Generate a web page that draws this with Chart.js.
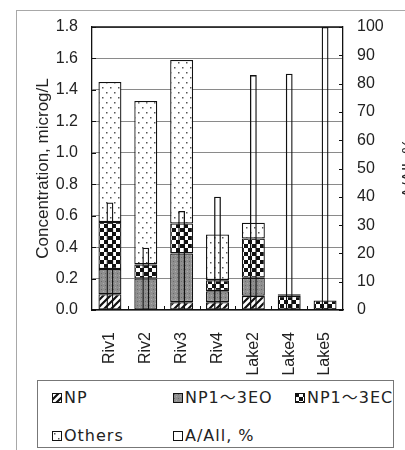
<!DOCTYPE html>
<html>
<head>
<meta charset="utf-8">
<script src="https://cdn.jsdelivr.net/npm/chart.js@4.4.1/dist/chart.umd.min.js"></script>
<style>
  html, body { margin: 0; padding: 0; background: #fff; overflow: hidden; width: 405px; height: 450px; }
  #frame { position: absolute; left: 16px; top: 10px; width: 480px; height: 480px;
           border-top: 1px solid #a8a8a8; border-left: 1px solid #a8a8a8; }
  #chart { position: absolute; left: 0; top: 0; }
  #legend { position: absolute; left: 37px; top: 380px; width: 355px; height: 66px;
            border: 1px solid #777; color: #222; background: #fff;
            font-family: "DejaVu Sans", "Noto Sans CJK JP", sans-serif; font-size: 16px; letter-spacing: 1px; }
  .item { position: absolute; display: flex; align-items: center; white-space: nowrap; height: 20px; line-height: 20px; }
  .item canvas { margin-right: 2px; }
</style>
</head>
<body>
<div id="frame"></div>
<canvas id="chart" width="420" height="378"></canvas>
<div id="legend"></div>
<script>
// Sampling sites
const categories = ['Riv1', 'Riv2', 'Riv3', 'Riv4', 'Lake2', 'Lake4', 'Lake5'];

// Concentrations by compound group, microg/L (stacked)
const npConc     = [0.10, 0.00, 0.05, 0.05, 0.09, 0.00, 0.00];
const eo13Conc   = [0.16, 0.20, 0.31, 0.07, 0.115, 0.00, 0.00];
const ec13Conc   = [0.30, 0.09, 0.19, 0.07, 0.25, 0.09, 0.06];
const othersConc = [0.89, 1.04, 1.04, 0.29, 0.10, 0.01, 0.00];

// Share of A in all, percent (right axis)
const aAllPercent = [38, 22, 35, 40, 83, 83.5, 100];

const seriesLabels = ['NP', 'NP1\uFF5E3EO', 'NP1\uFF5E3EC', 'Others', 'A/All, %'];
const leftTitle = 'Concentration, microg/L';
const rightTitle = 'A/All, %';
const concRange = { min: 0, max: 1.8, step: 0.2 };
const pctRange = { min: 0, max: 100, step: 10 };

// Monochrome fill patterns
function tile(w, h, paint) {
  const c = document.createElement('canvas');
  c.width = w; c.height = h;
  const g = c.getContext('2d');
  g.fillStyle = '#fff';
  g.fillRect(0, 0, w, h);
  paint(g, w, h);
  return g.createPattern(c, 'repeat');
}
const npFill = tile(7, 7, (g, w, h) => {
  g.strokeStyle = '#111'; g.lineWidth = 2.2;
  g.beginPath();
  for (const o of [-w, 0, w]) { g.moveTo(o - 1, h + 1); g.lineTo(o + w + 1, -1); }
  g.stroke();
});
const eoFill = tile(4, 4, (g) => {
  g.fillStyle = '#8f8f8f'; g.fillRect(0, 0, 4, 4);
  g.fillStyle = '#6a6a6a'; g.fillRect(1, 1, 1, 1);
  g.fillStyle = '#adadad'; g.fillRect(3, 3, 1, 1);
});
const ecFill = tile(8, 8, (g) => {
  g.fillStyle = '#111';
  g.fillRect(0, 0, 4, 4);
  g.fillRect(4, 4, 4, 4);
});
const othersFill = tile(8, 10, (g) => {
  g.fillStyle = '#555';
  g.fillRect(2, 2, 1.5, 1.5);
  g.fillRect(6, 7, 1.5, 1.5);
});
const seriesFills = [npFill, eoFill, ecFill, othersFill, '#fff'];

function stackSet(label, data, fill) {
  return {
    label, data, yAxisID: 'y',
    backgroundColor: fill, borderColor: '#111', borderWidth: 1.3, borderSkipped: false,
    barPercentage: 0.64, categoryPercentage: 1, order: 1
  };
}

const tickFont = { family: '"Liberation Sans", Arial, sans-serif', size: 16 };

// Frame top edge, inward tick marks and right-hand axis title
const framePlugin = {
  id: 'frame',
  afterDraw(chart) {
    const { ctx, chartArea: a, scales } = chart;
    ctx.save();
    ctx.strokeStyle = '#111';
    ctx.lineWidth = 1.3;
    ctx.beginPath();
    ctx.moveTo(a.left, a.top); ctx.lineTo(a.right, a.top);
    ctx.stroke();
    ctx.lineWidth = 1;
    ctx.beginPath();
    scales.y.ticks.forEach(t => {
      const py = Math.round(scales.y.getPixelForValue(t.value)) + 0.5;
      ctx.moveTo(a.left, py); ctx.lineTo(a.left + 4, py);
    });
    scales.y1.ticks.forEach(t => {
      const py = Math.round(scales.y1.getPixelForValue(t.value)) + 0.5;
      ctx.moveTo(a.right - 4, py); ctx.lineTo(a.right, py);
    });
    for (let i = 0; i < categories.length - 1; i++) {
      const px = Math.round((scales.x.getPixelForValue(i) + scales.x.getPixelForValue(i + 1)) / 2) + 0.5;
      ctx.moveTo(px, a.bottom); ctx.lineTo(px, a.bottom - 4);
    }
    ctx.stroke();
    ctx.fillStyle = '#222';
    ctx.font = '17px "Liberation Sans", Arial, sans-serif';
    ctx.textAlign = 'center';
    ctx.textBaseline = 'middle';
    ctx.translate(scales.y1.right - 11, (a.top + a.bottom) / 2);
    ctx.rotate(-Math.PI / 2);
    ctx.fillText(rightTitle, 0, 0);
    ctx.restore();
  }
};

const chart = new Chart(document.getElementById('chart'), {
  type: 'bar',
  data: {
    labels: categories,
    datasets: [
      stackSet(seriesLabels[0], npConc, npFill),
      stackSet(seriesLabels[1], eo13Conc, eoFill),
      stackSet(seriesLabels[2], ec13Conc, ecFill),
      stackSet(seriesLabels[3], othersConc, othersFill),
      {
        label: seriesLabels[4], data: aAllPercent, yAxisID: 'y1',
        backgroundColor: 'rgba(255,255,255,0)', borderColor: '#111', borderWidth: 1.3, borderSkipped: false,
        barPercentage: 0.19, categoryPercentage: 1, order: 0
      }
    ]
  },
  options: {
    responsive: false,
    animation: false,
    devicePixelRatio: 1,
    layout: { padding: { top: 27, left: 0, right: 0, bottom: 0 } },
    plugins: { legend: { display: false }, tooltip: { enabled: false } },
    scales: {
      x: {
        stacked: true,
        grid: { display: false },
        border: { display: true, color: '#111', width: 1.3 },
        ticks: { minRotation: 90, maxRotation: 90, padding: 14, color: '#222', font: tickFont },
        afterFit(s) { s.height = 68; }
      },
      y: {
        stacked: true,
        min: concRange.min, max: concRange.max,
        ticks: { stepSize: concRange.step, padding: 14, color: '#222', font: tickFont,
                 callback: v => Number(v).toFixed(1) },
        grid: { color: '#8a8a8a', lineWidth: 1, drawTicks: false },
        border: { display: true, color: '#111', width: 1.3 },
        title: { display: true, text: leftTitle, color: '#222',
                 font: { family: '"Liberation Sans", Arial, sans-serif', size: 17 }, padding: { top: 33, bottom: 0 } },
        afterFit(s) { s.width = 92; }
      },
      y1: {
        position: 'right',
        min: pctRange.min, max: pctRange.max,
        ticks: { stepSize: pctRange.step, padding: 14, color: '#222', font: tickFont },
        grid: { display: false, drawTicks: false },
        border: { display: true, color: '#111', width: 1.3 },
        afterFit(s) { s.width = 77; }
      }
    }
  },
  plugins: [framePlugin]
});

// Legend box built from the dataset labels and fills
const legendSlots = [[14, 7], [135, 7], [257, 7], [14, 45], [135, 45]];
const legendEl = document.getElementById('legend');
chart.data.datasets.forEach((ds, i) => {
  const item = document.createElement('div');
  item.className = 'item';
  item.style.left = legendSlots[i][0] + 'px';
  item.style.top = legendSlots[i][1] + 'px';
  const sw = document.createElement('canvas');
  sw.width = 10; sw.height = 10;
  const g = sw.getContext('2d');
  g.fillStyle = seriesFills[i];
  g.fillRect(0, 0, 10, 10);
  g.strokeStyle = '#111'; g.lineWidth = 1;
  g.strokeRect(0.5, 0.5, 9, 9);
  const tx = document.createElement('span');
  tx.textContent = ds.label;
  item.appendChild(sw);
  item.appendChild(tx);
  legendEl.appendChild(item);
});
</script>
</body>
</html>
